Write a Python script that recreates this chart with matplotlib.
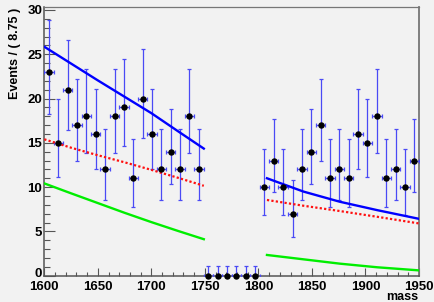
import math
import matplotlib
matplotlib.use("Agg")
import matplotlib.pyplot as plt
from matplotlib.ticker import MultipleLocator
from matplotlib.transforms import ScaledTranslation

# ---- data ----
bin_width = 8.75
x_lo, x_hi = 1600.0, 1950.0
counts = [23, 15, 21, 17, 18, 16, 12, 18, 19, 11, 20, 16, 12, 14, 12, 18, 12,
          0, 0, 0, 0, 0, 0,
          10, 13, 10, 7, 12, 14, 17, 11, 12, 11, 16, 15, 18, 11, 12, 10, 13]

# model curves (two fit ranges)
left_x = [1600, 1625, 1650, 1675, 1700, 1725, 1749]
right_x = [1808, 1842, 1876, 1911, 1950]
total_left = [25.85, 23.95, 22.05, 20.2, 18.35, 16.3, 14.35]
total_right = [11.0, 9.5, 8.35, 7.4, 6.42]
bkg_left = [15.4, 14.45, 13.6, 12.8, 11.95, 11.05, 10.15]
bkg_right = [8.55, 7.9, 7.3, 6.65, 5.9]
sig_left = [10.42, 9.3, 8.2, 7.1, 6.05, 5.05, 4.12]
sig_right = [2.34, 1.85, 1.36, 0.95, 0.6]

x_ticks_major = [1600, 1650, 1700, 1750, 1800, 1850, 1900, 1950]
y_ticks_major = [0, 5, 10, 15, 20, 25, 30]


def pois_cdf(n, mu):
    s, term = 0.0, math.exp(-mu)
    for k in range(n + 1):
        if k > 0:
            term *= mu / k
        s += term
    return s


def solve(f, target, lo, hi):
    for _ in range(200):
        mid = 0.5 * (lo + hi)
        if f(mid) > target:
            lo = mid
        else:
            hi = mid
    return 0.5 * (lo + hi)


def poisson_interval(n, cl=0.6827):
    a = (1 - cl) / 2
    if n == 0:
        return 0.0, -math.log(1 - cl)
    up = solve(lambda m: pois_cdf(n, m), a, 0.0, 200.0)
    low = solve(lambda m: pois_cdf(n - 1, m), 1 - a, 0.0, 200.0)
    return n - low, up - n


centers = [x_lo + bin_width * (i + 0.5) for i in range(len(counts))]
err_lo, err_hi = [], []
for n in counts:
    l, h = poisson_interval(n)
    err_lo.append(l)
    err_hi.append(h)

# ---- figure ----
bg = "#f2f2f2"
fig = plt.figure(figsize=(4.35, 3.02), dpi=100, facecolor=bg)
ax = fig.add_axes([0.1018, 0.0871, 0.9632 - 0.1018, 0.9758 - 0.0871])
ax.set_facecolor(bg)

ebc = "#4a4af5"
ax.errorbar(centers, counts, yerr=[err_lo, err_hi], xerr=bin_width / 2,
            fmt="none", ecolor=ebc, elinewidth=0.9, capsize=1.6,
            capthick=0.9, zorder=3)
ax.plot(centers, counts, "o", color="black", markersize=3.6, zorder=5,
        clip_on=False)

lw = 1.7
ax.plot(left_x, sig_left, color="#00ee00", lw=lw, zorder=4)
ax.plot(right_x, sig_right, color="#00ee00", lw=lw, zorder=4)
ax.plot(left_x, bkg_left, color="#ff1010", lw=1.6, ls=(0, (1, 1)), zorder=4)
ax.plot(right_x, bkg_right, color="#ff1010", lw=1.6, ls=(0, (1, 1)), zorder=4)
ax.plot(left_x, total_left, color="#0000ff", lw=lw, zorder=4)
ax.plot(right_x, total_right, color="#0000ff", lw=lw, zorder=4)

ax.set_xlim(x_lo, x_hi)
ax.set_ylim(0, 30.3)
ax.set_xticks(x_ticks_major)
ax.set_yticks(y_ticks_major)
ax.xaxis.set_minor_locator(MultipleLocator(10))
ax.yaxis.set_minor_locator(MultipleLocator(1))

tc = "#555555"
ax.tick_params(axis="y", which="major", direction="in", length=7.9, width=0.8,
               color=tc, pad=1.5)
ax.tick_params(axis="y", which="minor", direction="in", length=4.3, width=0.8,
               color=tc)
ax.tick_params(axis="x", which="major", direction="in", length=5.5, width=0.8,
               color=tc, pad=3.5)
ax.tick_params(axis="x", which="minor", direction="in", length=2.9, width=0.8,
               color=tc)
ax.tick_params(right=False, top=False)

for lab in ax.get_xticklabels() + ax.get_yticklabels():
    lab.set_fontfamily("Liberation Sans")
    lab.set_fontweight("bold")
    lab.set_fontsize(9.5)
    lab.set_color("black")

# nudge the "0" label up slightly so it does not collide with "1600"
ylab0 = ax.get_yticklabels()[0]
ylab0.set_transform(ylab0.get_transform() +
                    ScaledTranslation(0, 2.5 / 72, fig.dpi_scale_trans))

ax.spines["left"].set_color("#555555")
ax.spines["bottom"].set_color("#555555")
ax.spines["left"].set_linewidth(1.1)
ax.spines["bottom"].set_linewidth(1.1)
ax.spines["top"].set_color("#777777")
ax.spines["right"].set_color("#777777")
ax.spines["top"].set_linewidth(0.9)
ax.spines["right"].set_linewidth(1.3)

fig.text(15.5 / 435, 1 - 8 / 302, "Events / ( 8.75 )", rotation=90,
         ha="center", va="top", fontsize=9, fontweight="bold",
         family="Liberation Sans")
fig.text(418 / 435, 1 - 297 / 302, "mass", ha="right", va="center",
         fontsize=9, fontweight="bold", family="Liberation Sans")

fig.savefig("out.png", dpi=100, facecolor=bg)
